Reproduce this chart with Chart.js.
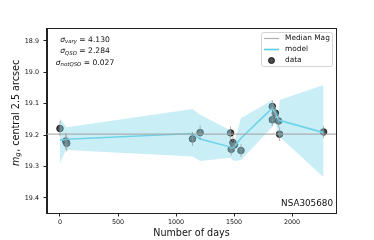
<!DOCTYPE html>
<html lang="en">
<head>
    <meta charset="UTF-8">
    <title>NSA305680 light curve</title>
    <script src="https://cdn.jsdelivr.net/npm/chart.js"></script>
    <style>
    body { margin: 0; background: #fff; }
    #wrap { position: relative; width: 374px; height: 240px; }
</style>
</head>
<body>
    <div id="wrap"><canvas id="lcChart" width="374" height="240"></canvas></div>
    <script>
        // observed points
        const days = [0, 49, 58, 1142, 1208, 1470, 1476, 1490, 1504, 1560, 1830, 1830, 1856, 1884, 1893, 2272];
        const mags = [19.179, 19.219, 19.226, 19.212, 19.192, 19.193, 19.245, 19.224, 19.231, 19.249, 19.109, 19.151, 19.130, 19.155, 19.197, 19.190];
        const magErr = [0.024, 0.026, 0.026, 0.022, 0.022, 0.02, 0.02, 0.02, 0.02, 0.02, 0.02, 0.02, 0.02, 0.02, 0.022, 0.019];

        // model curve and its band
        const modelDays = [0, 49, 58, 1142, 1208, 1470, 1476, 1490, 1504, 1560, 1830, 1856, 1884, 1893, 2272];
        const modelMag = [19.215, 19.214, 19.213, 19.195, 19.212, 19.238, 19.242, 19.240, 19.235, 19.21, 19.114, 19.13, 19.152, 19.153, 19.192];
        const modelUpper = [19.146, 19.172, 19.175, 19.117, 19.135, 19.185, 19.22, 19.225, 19.22, 19.146, 19.088, 19.112, 19.135, 19.088, 19.040];
        const modelLower = [19.289, 19.25, 19.247, 19.268, 19.282, 19.272, 19.275, 19.28, 19.282, 19.279, 19.174, 19.16, 19.205, 19.205, 19.334];

        const medianMag = 19.197;
        const xRange = [-112, 2379];
        const yRange = [18.862, 19.448];
        const xTicks = [0, 500, 1000, 1500, 2000];
        const yTicks = [18.9, 19.0, 19.1, 19.2, 19.3, 19.4];

        const sigmaLabels = [['vary', '4.130'], ['QSO', '2.284'], ['notQSO', '0.027']];
        const legendLabels = ['Median Mag', 'model', 'data'];
        const objectName = 'NSA305680';

        const FONT = 'DejaVu Sans';
        const lineCol = 'rgb(92,206,228)';
        const bandCol = 'rgba(135,218,235,0.45)';
        const medCol = 'rgba(165,165,165,0.85)';

        const pts = (xs, ys) => xs.map((x, i) => ({ x: x, y: ys[i] }));

        // error bars, frame, texts and legend
        const extras = {
            id: 'extras',
            afterDatasetsDraw(chart) {
                const ctx = chart.ctx;
                const xs = chart.scales.x, ys = chart.scales.y;
                ctx.save();
                ctx.strokeStyle = 'rgba(150,150,150,0.7)';
                ctx.lineWidth = 1;
                days.forEach((d, i) => {
                    const px = xs.getPixelForValue(d);
                    ctx.beginPath();
                    ctx.moveTo(px, ys.getPixelForValue(mags[i] - magErr[i]));
                    ctx.lineTo(px, ys.getPixelForValue(mags[i] + magErr[i]));
                    ctx.stroke();
                });
                ctx.restore();
            },
            afterDraw(chart) {
                const ctx = chart.ctx;
                const a = chart.chartArea;
                ctx.save();
                // frame
                ctx.strokeStyle = '#222';
                ctx.lineWidth = 1;
                ctx.strokeRect(a.left - 0.5, a.top - 0.5, a.right - a.left + 1, a.bottom - a.top + 1);

                // sigma annotation
                ctx.fillStyle = '#111';
                ctx.textBaseline = 'middle';
                const rowY = [40, 51.5, 63];
                sigmaLabels.forEach((s, i) => {
                    ctx.font = 'italic 7.6px ' + FONT;
                    const w1 = ctx.measureText('σ').width;
                    ctx.font = 'italic 5.4px ' + FONT;
                    const w2 = ctx.measureText(s[0]).width;
                    ctx.font = '7.6px ' + FONT;
                    const rest = ' = ' + s[1];
                    const w3 = ctx.measureText(rest).width;
                    let x = 85 - (w1 + w2 + w3) / 2;
                    ctx.textAlign = 'left';
                    ctx.font = 'italic 7.6px ' + FONT;
                    ctx.fillText('σ', x, rowY[i]);
                    x += w1;
                    ctx.font = 'italic 5.4px ' + FONT;
                    ctx.fillText(s[0], x, rowY[i] + 2);
                    x += w2;
                    ctx.font = '7.6px ' + FONT;
                    ctx.fillText(rest, x, rowY[i]);
                });

                // object name
                ctx.font = '8.8px ' + FONT;
                ctx.textAlign = 'right';
                ctx.textBaseline = 'alphabetic';
                ctx.fillText(objectName, a.right - 3, a.bottom - 7);

                // legend box
                const bx = 261.5, by = 32.5, bw = 71, bh = 34;
                ctx.beginPath();
                ctx.roundRect(bx, by, bw, bh, 2);
                ctx.fillStyle = 'rgba(255,255,255,0.85)';
                ctx.fill();
                ctx.strokeStyle = '#d4d4d4';
                ctx.lineWidth = 1;
                ctx.stroke();
                const ly = [38.5, 49.5, 60.5];
                ctx.lineWidth = 1.2;
                ctx.strokeStyle = medCol;
                ctx.beginPath(); ctx.moveTo(264, ly[0]); ctx.lineTo(279, ly[0]); ctx.stroke();
                ctx.lineWidth = 1.6;
                ctx.strokeStyle = lineCol;
                ctx.beginPath(); ctx.moveTo(264, ly[1]); ctx.lineTo(279, ly[1]); ctx.stroke();
                ctx.beginPath();
                ctx.arc(271.5, ly[2], 3, 0, Math.PI * 2);
                ctx.fillStyle = 'rgba(55,55,55,0.9)';
                ctx.fill();
                ctx.lineWidth = 0.8;
                ctx.strokeStyle = '#000';
                ctx.stroke();
                ctx.fillStyle = '#111';
                ctx.font = '7.4px ' + FONT;
                ctx.textAlign = 'left';
                ctx.textBaseline = 'middle';
                legendLabels.forEach((t, i) => ctx.fillText(t, 285, ly[i]));

                // y title with subscript
                ctx.translate(16, 166);
                ctx.rotate(-Math.PI / 2);
                ctx.textAlign = 'left';
                ctx.font = 'italic 9.6px ' + FONT;
                ctx.fillText('m', 0, 0);
                let x = ctx.measureText('m').width;
                ctx.font = 'italic 6.8px ' + FONT;
                ctx.fillText('g', x, 2.5);
                x += ctx.measureText('g').width + 0.5;
                ctx.font = '9.6px ' + FONT;
                ctx.fillText(', central 2.5 arcsec', x, 0);
                ctx.restore();
            }
        };

        const ctx = document.getElementById('lcChart').getContext('2d');
        new Chart(ctx, {
            type: 'scatter',
            data: {
                datasets: [
                    {
                        type: 'line',
                        data: pts(xRange, [medianMag, medianMag]),
                        borderColor: medCol,
                        borderWidth: 1.2,
                        pointRadius: 0,
                        fill: false
                    },
                    {
                        type: 'line',
                        data: pts(modelDays, modelUpper),
                        borderWidth: 0,
                        borderColor: 'rgba(0,0,0,0)',
                        backgroundColor: bandCol,
                        pointRadius: 0,
                        fill: '+1'
                    },
                    {
                        type: 'line',
                        data: pts(modelDays, modelLower),
                        borderWidth: 0,
                        borderColor: 'rgba(0,0,0,0)',
                        pointRadius: 0,
                        fill: false
                    },
                    {
                        type: 'line',
                        data: pts(modelDays, modelMag),
                        borderColor: lineCol,
                        borderWidth: 1.6,
                        pointRadius: 0,
                        fill: false
                    },
                    {
                        data: pts(days, mags),
                        backgroundColor: 'rgba(55,55,55,0.9)',
                        borderColor: '#000',
                        borderWidth: 0.8,
                        pointRadius: 3.3
                    }
                ]
            },
            options: {
                responsive: false,
                animation: false,
                events: [],
                layout: { padding: { left: 0, top: 29, right: 38, bottom: 0 } },
                plugins: { legend: { display: false }, tooltip: { enabled: false } },
                scales: {
                    x: {
                        type: 'linear',
                        min: xRange[0],
                        max: xRange[1],
                        afterBuildTicks: s => { s.ticks = xTicks.map(v => ({ value: v })); },
                        afterFit: s => { s.height = 27; },
                        grid: { drawOnChartArea: false, drawTicks: true, tickLength: 3.5, color: '#222' },
                        border: { display: true, color: '#222' },
                        ticks: { color: '#111', font: { family: FONT, size: 6.4 }, padding: 2, maxRotation: 0, callback: v => String(v) },
                        title: { display: true, text: 'Number of days', color: '#111', font: { family: FONT, size: 9.6 }, padding: { top: 0, bottom: 1 } }
                    },
                    y: {
                        type: 'linear',
                        reverse: true,
                        min: yRange[0],
                        max: yRange[1],
                        afterBuildTicks: s => { s.ticks = yTicks.map(v => ({ value: v })); },
                        afterFit: s => { s.width = 47; },
                        grid: { drawOnChartArea: false, drawTicks: true, tickLength: 3.5, color: '#222' },
                        border: { display: true, color: '#222' },
                        ticks: { color: '#111', font: { family: FONT, size: 6.4 }, padding: 4.5, callback: v => v.toFixed(1) }
                    }
                }
            },
            plugins: [extras]
        });
    </script>
</body>
</html>
